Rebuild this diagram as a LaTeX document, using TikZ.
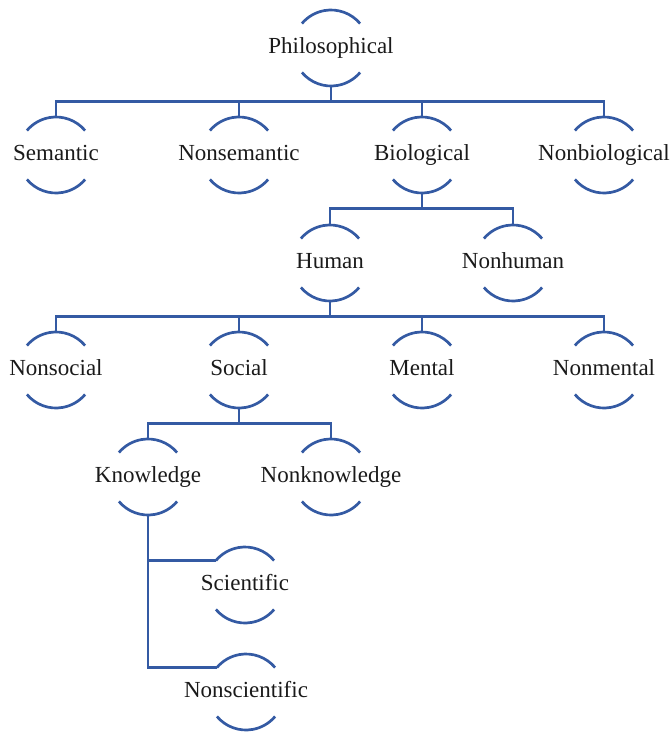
\documentclass[tikz,border=0pt]{standalone}
\usepackage{fontspec}
\setmainfont{Liberation Serif}
\usepackage{tikz}
\usetikzlibrary{calc}
\definecolor{TreeBlue}{HTML}{345AA3}
\definecolor{TreeInk}{HTML}{1A1A1A}

\begin{document}
\begin{tikzpicture}[
      x=1pt,y=-1pt,
      term/.style={rectangle,minimum height=76pt,inner sep=0pt,outer sep=0pt,
        text height=16pt,text depth=5pt,text=TreeInk,font=\fontsize{23}{27}\selectfont},
      ring/.style={draw=TreeBlue,line width=2.7pt},
      link/.style={draw=TreeBlue,line width=2.7pt}
    ]
    \useasboundingbox (0,0) rectangle (671,734);
    % rows of terms
    \node[term] (phil) at (331,48) {Philosophical};
    \node[term] (sem) at (56,155) {Semantic};
    \node[term] (nonsem) at (239,155) {Nonsemantic};
    \node[term] (bio) at (422,155) {Biological};
    \node[term] (nonbio) at (604,155) {Nonbiological};
    \node[term] (human) at (330,263) {Human};
    \node[term] (nonhuman) at (513,263) {Nonhuman};
    \node[term] (nonsoc) at (56,370) {Nonsocial};
    \node[term] (soc) at (239,370) {Social};
    \node[term] (mental) at (422,370) {Mental};
    \node[term] (nonmental) at (604,370) {Nonmental};
    \node[term] (know) at (148,477) {Knowledge};
    \node[term] (nonknow) at (331,477) {Nonknowledge};
    \node[term] (sci) at (245,585) {Scientific};
    \node[term] (nonsci) at (246,692) {Nonscientific};

    % open rings round each term
    \foreach \n in {phil,sem,nonsem,bio,nonbio,human,nonhuman,nonsoc,soc,
                    mental,nonmental,know,nonknow,sci,nonsci} {
      \draw[ring] (\n.center) ++(40:38pt) arc[start angle=40,end angle=140,radius=38pt];
      \draw[ring] (\n.center) ++(220:38pt) arc[start angle=220,end angle=320,radius=38pt];
    }

    % branches
    \foreach \c in {sem,nonsem,bio,nonbio}
      \draw[link] (phil.south) -- ++(0,-15.5pt) -| (\c.north);
    \foreach \c in {human,nonhuman}
      \draw[link] (bio.south) -- ++(0,-15.5pt) -| (\c.north);
    \foreach \c in {nonsoc,soc,mental,nonmental}
      \draw[link] (human.south) -- ++(0,-15.5pt) -| (\c.north);
    \foreach \c in {know,nonknow}
      \draw[link] (soc.south) -- ++(0,-15.5pt) -| (\c.north);

    \coordinate (sciin) at ($(sci.center)+(140:38pt)$);
    \coordinate (nonsciin) at ($(nonsci.center)+(140:38pt)$);
    \draw[link] (know.south) |- (sciin);
    \draw[link] (know.south) |- (nonsciin);
  \end{tikzpicture}
\end{document}
